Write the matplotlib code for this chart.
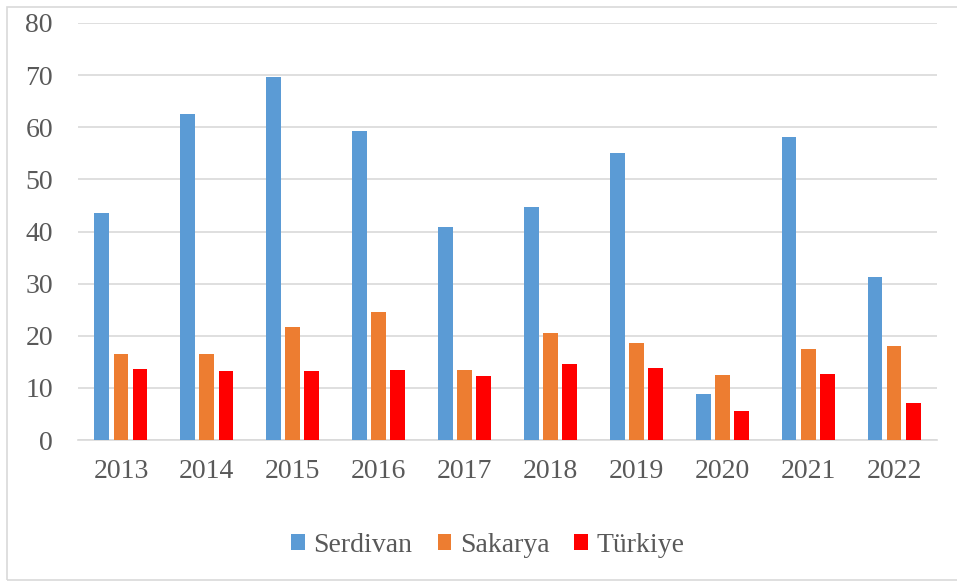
import matplotlib
matplotlib.use("Agg")
import matplotlib.pyplot as plt
import numpy as np
from matplotlib.patches import Rectangle

years = ["2013", "2014", "2015", "2016", "2017", "2018", "2019", "2020", "2021", "2022"]
serdivan = [43.6, 62.6, 69.7, 59.3, 40.9, 44.7, 55.1, 8.8, 58.2, 31.3]
sakarya = [16.5, 16.5, 21.7, 24.6, 13.4, 20.5, 18.6, 12.5, 17.5, 18.0]
turkiye = [13.6, 13.2, 13.2, 13.4, 12.3, 14.6, 13.8, 5.6, 12.7, 7.1]
series_names = ["Serdivan", "Sakarya", "Türkiye"]
colors = ["#5B9BD5", "#ED7D31", "#FF0000"]

plt.rcParams['font.family'] = ['Liberation Serif', 'DejaVu Serif']
text_color = "#595959"

fig = plt.figure(figsize=(9.57, 5.83), dpi=100)
fig.patches.append(Rectangle((7/957, 3/583), 1.0, 1 - 10/583, transform=fig.transFigure,
                             fill=False, edgecolor="#D9D9D9", linewidth=1.2))
ax = fig.add_axes([78/957, 143/583, (937-78)/957, (440-23)/583])

x = np.arange(len(years))
w = 0.172
step = 0.222
for i, (vals, name, c) in enumerate(zip([serdivan, sakarya, turkiye], series_names, colors)):
    ax.bar(x + (i - 1) * step, vals, width=w, color=c, label=name, zorder=3)

ax.set_xlim(-0.5, len(years) - 0.5)
ax.set_ylim(0, 80)
ax.set_yticks(np.arange(0, 81, 10))
ax.set_xticks(x)
ax.set_xticklabels(years)
ax.grid(axis='y', color="#D9D9D9", linewidth=1.2, zorder=0)
for s in ["top", "right", "left"]:
    ax.spines[s].set_visible(False)
ax.spines["bottom"].set_color("#D9D9D9")
ax.spines["bottom"].set_linewidth(1.2)
ax.tick_params(axis='both', length=0, labelsize=20, colors=text_color)
ax.tick_params(axis='x', pad=14)
ax.tick_params(axis='y', pad=18)

leg = fig.legend(loc="center", bbox_to_anchor=(488/957, 1 - 545/583), ncol=3, frameon=False,
                 fontsize=20, handlelength=0.5, handleheight=0.5, handletextpad=0.3,
                 columnspacing=0.9)
for t in leg.get_texts():
    t.set_color(text_color)

fig.savefig("out.png", dpi=100)
